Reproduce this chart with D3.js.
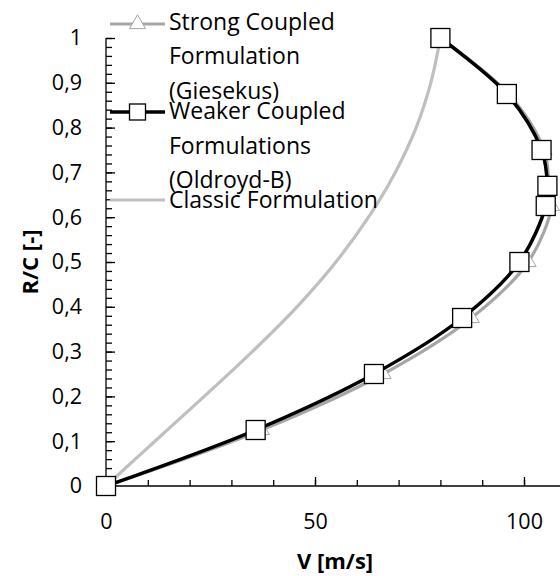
<!DOCTYPE html>
<html>
<head>
<meta charset="utf-8">
<script src="https://cdn.jsdelivr.net/npm/d3@7"></script>
<style>
  html, body { margin: 0; padding: 0; background: #fff; }
  svg { display: block; }
  text { font-family: "Open Sans", Lato, sans-serif; fill: #000; }
</style>
</head>
<body>
<svg id="chart" width="560" height="576"></svg>
<script>
// ---- data ----
const rcLevels      = [0, 0.125, 0.25, 0.375, 0.5, 0.625, 0.67, 0.75, 0.875, 1.0];
const weakerV       = [0, 35.8, 64.1, 85.2, 98.9, 105.2, 105.6, 104.2, 95.9, 80];
const strongV       = [0, 37.2, 66.3, 87.4, 101.0, 106.6, 106.0, 104.8, 96.3, 80];
const classicRC     = [0, 0.1, 0.2, 0.3, 0.4, 0.5, 0.6, 0.7, 0.8, 0.9, 1.0];
const classicV      = [0, 11.7, 23.5, 35.0, 45.7, 55.0, 62.8, 69.2, 74.2, 77.7, 80];
const xMajorTicks   = [0, 50, 100];
const xMinorTicks   = [0, 10, 20, 30, 40, 50, 60, 70, 80, 90, 100];
const yMajorTicks   = [0, 0.1, 0.2, 0.3, 0.4, 0.5, 0.6, 0.7, 0.8, 0.9, 1];
const yMinorTicks   = d3.range(0, 51).map(i => i / 50);
const legendLines   = [["Strong Coupled", "Formulation", "(Giesekus)"], ["Weaker Coupled", "Formulations", "(Oldroyd-B)"], ["Classic Formulation"]];

const svg = d3.select("#chart");
const x = d3.scaleLinear().domain([0, 110]).range([106, 106 + 110 * 4.18]);
const y = d3.scaleLinear().domain([0, 1]).range([486, 38]);

const fmt = d => String(d).replace(".", ",");

// axes: minor ticks
svg.append("g").attr("transform", "translate(0,486)")
  .call(d3.axisBottom(x).tickValues(xMinorTicks).tickSize(-6).tickFormat(""))
  .call(g => g.select(".domain").remove());
svg.append("g").attr("transform", "translate(106,0)")
  .call(d3.axisLeft(y).tickValues(yMinorTicks).tickSize(-6).tickFormat(""))
  .call(g => g.select(".domain").remove());
// major ticks + labels
const xAx = svg.append("g").attr("transform", "translate(0,486)")
  .call(d3.axisBottom(x).tickValues(xMajorTicks).tickSizeInner(-9).tickSizeOuter(0).tickPadding(28).tickFormat(fmt));
const yAx = svg.append("g").attr("transform", "translate(106,0)")
  .call(d3.axisLeft(y).tickValues(yMajorTicks).tickSizeInner(-9).tickSizeOuter(0).tickPadding(24).tickFormat(fmt));
[xAx, yAx].forEach(g => {
  g.selectAll("text").attr("font-size", 21.5).attr("font-family", "'Open Sans', sans-serif").attr("fill", "#000");
});
svg.selectAll("g line").attr("stroke", "#000").attr("stroke-width", 1.3);
svg.selectAll("g .domain").attr("stroke", "#000").attr("stroke-width", 1.3);
yAx.select(".domain").attr("d", `M0,${y(1)}V${y(0)}`);
xAx.select(".domain").attr("d", `M${x(0)},0H560`);

// axis titles
svg.append("text").attr("x", 335).attr("y", 569).attr("text-anchor", "middle")
  .attr("font-size", 22).attr("font-weight", "bold").text("V [m/s]");
svg.append("text").attr("transform", "translate(38,262) rotate(-90)").attr("text-anchor", "middle")
  .attr("font-size", 22).attr("font-weight", "bold").text("R/C [-]");

const line = d3.line().x(d => x(d[0])).y(d => y(d[1])).curve(d3.curveCatmullRom.alpha(0.5));

const classic = classicV.map((v, i) => [v, classicRC[i]]);
const strong = strongV.map((v, i) => [v, rcLevels[i]]);
const weaker = weakerV.map((v, i) => [v, rcLevels[i]]);

svg.append("path").datum(classic).attr("d", line).attr("fill", "none").attr("stroke", "#bfbfbf").attr("stroke-width", 3.2);
svg.append("path").datum(strong).attr("d", line).attr("fill", "none").attr("stroke", "#a6a6a6").attr("stroke-width", 3.2);
const tri = d3.symbol().type(d3.symbolTriangle).size(110);
svg.append("g").selectAll("path").data(strong).join("path")
  .attr("transform", d => `translate(${x(d[0])},${y(d[1])})`)
  .attr("d", tri).attr("fill", "#fff").attr("stroke", "#a6a6a6").attr("stroke-width", 1);
svg.append("path").datum(weaker).attr("d", line).attr("fill", "none").attr("stroke", "#000").attr("stroke-width", 3.5);
svg.append("g").selectAll("rect").data(weaker).join("rect")
  .attr("x", d => x(d[0]) - 9.5).attr("y", d => y(d[1]) - 9.5).attr("width", 19).attr("height", 19)
  .attr("fill", "#fff").attr("stroke", "#000").attr("stroke-width", 1.3);

// legend
const legendLineY = [24, 112, 200];
const legendTextY = [[29.5, 64, 99], [119, 153.5, 188], [208]];
const lg = svg.append("g");
lg.append("line").attr("x1", 110).attr("x2", 165).attr("y1", legendLineY[0]).attr("y2", legendLineY[0]).attr("stroke", "#a6a6a6").attr("stroke-width", 3.2);
lg.append("path").attr("transform", `translate(137.5,${legendLineY[0]})`).attr("d", tri).attr("fill", "#fff").attr("stroke", "#a6a6a6").attr("stroke-width", 1);
lg.append("line").attr("x1", 110).attr("x2", 165).attr("y1", legendLineY[1]).attr("y2", legendLineY[1]).attr("stroke", "#000").attr("stroke-width", 3.5);
lg.append("rect").attr("x", 137.5 - 8).attr("y", legendLineY[1] - 8).attr("width", 16).attr("height", 16).attr("fill", "#fff").attr("stroke", "#000").attr("stroke-width", 1.3);
lg.append("line").attr("x1", 110).attr("x2", 165).attr("y1", legendLineY[2]).attr("y2", legendLineY[2]).attr("stroke", "#bfbfbf").attr("stroke-width", 3.2);
legendLines.forEach((lines, i) => {
  lines.forEach((t, j) => {
    lg.append("text").attr("x", 169).attr("y", legendTextY[i][j]).attr("font-size", 23).text(t);
  });
});
</script>
</body>
</html>
